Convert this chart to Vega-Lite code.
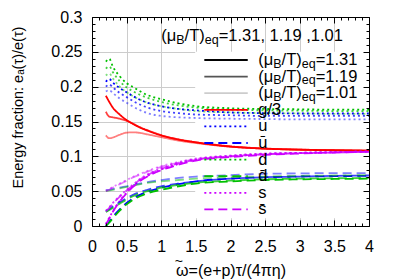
{
"$schema":"https://vega.github.io/schema/vega-lite/v6.json",
"width":277,"height":209,
"autosize":{"type":"none"},
"padding":{"left":92,"top":17,"right":30,"bottom":53},
"config":{"font":"Liberation Sans","view":{"stroke":null},"axis":{"labelFont":"Liberation Sans","titleFont":"Liberation Sans","labelColor":"#000","titleColor":"#000","domainColor":"#000","tickColor":"#000","titleFontWeight":"normal"}},
"datasets":{
"curves":[
{"m":"1.31","s":"g/3","x":0.2,"y":0.187},{"m":"1.31","s":"g/3","x":0.25,"y":0.178},{"m":"1.31","s":"g/3","x":0.3,"y":0.170},{"m":"1.31","s":"g/3","x":0.4,"y":0.160},{"m":"1.31","s":"g/3","x":0.5,"y":0.152},{"m":"1.31","s":"g/3","x":0.6,"y":0.146},{"m":"1.31","s":"g/3","x":0.7,"y":0.141},{"m":"1.31","s":"g/3","x":0.8,"y":0.137},{"m":"1.31","s":"g/3","x":1,"y":0.130},{"m":"1.31","s":"g/3","x":1.25,"y":0.124},{"m":"1.31","s":"g/3","x":1.5,"y":0.120},{"m":"1.31","s":"g/3","x":2,"y":0.114},{"m":"1.31","s":"g/3","x":2.5,"y":0.111},{"m":"1.31","s":"g/3","x":3,"y":0.1095},{"m":"1.31","s":"g/3","x":3.5,"y":0.1087},{"m":"1.31","s":"g/3","x":4,"y":0.108},
{"m":"1.19","s":"g/3","x":0.2,"y":0.164},{"m":"1.19","s":"g/3","x":0.25,"y":0.157},{"m":"1.19","s":"g/3","x":0.3,"y":0.156},{"m":"1.19","s":"g/3","x":0.4,"y":0.154},{"m":"1.19","s":"g/3","x":0.5,"y":0.151},{"m":"1.19","s":"g/3","x":0.6,"y":0.1465},{"m":"1.19","s":"g/3","x":0.7,"y":0.1415},{"m":"1.19","s":"g/3","x":0.8,"y":0.1375},{"m":"1.19","s":"g/3","x":1,"y":0.1305},{"m":"1.19","s":"g/3","x":1.25,"y":0.1245},{"m":"1.19","s":"g/3","x":1.5,"y":0.1203},{"m":"1.19","s":"g/3","x":2,"y":0.1143},{"m":"1.19","s":"g/3","x":2.5,"y":0.1112},{"m":"1.19","s":"g/3","x":3,"y":0.1097},{"m":"1.19","s":"g/3","x":3.5,"y":0.1089},{"m":"1.19","s":"g/3","x":4,"y":0.1082},
{"m":"1.01","s":"g/3","x":0.2,"y":0.130},{"m":"1.01","s":"g/3","x":0.25,"y":0.126},{"m":"1.01","s":"g/3","x":0.3,"y":0.127},{"m":"1.01","s":"g/3","x":0.4,"y":0.131},{"m":"1.01","s":"g/3","x":0.5,"y":0.134},{"m":"1.01","s":"g/3","x":0.6,"y":0.1345},{"m":"1.01","s":"g/3","x":0.7,"y":0.1335},{"m":"1.01","s":"g/3","x":0.8,"y":0.1315},{"m":"1.01","s":"g/3","x":1,"y":0.1275},{"m":"1.01","s":"g/3","x":1.25,"y":0.1225},{"m":"1.01","s":"g/3","x":1.5,"y":0.119},{"m":"1.01","s":"g/3","x":2,"y":0.1138},{"m":"1.01","s":"g/3","x":2.5,"y":0.111},{"m":"1.01","s":"g/3","x":3,"y":0.1096},{"m":"1.01","s":"g/3","x":3.5,"y":0.1088},{"m":"1.01","s":"g/3","x":4,"y":0.1082},
{"m":"1.31","s":"u","x":0.2,"y":0.207},{"m":"1.31","s":"u","x":0.25,"y":0.211},{"m":"1.31","s":"u","x":0.3,"y":0.206},{"m":"1.31","s":"u","x":0.4,"y":0.198},{"m":"1.31","s":"u","x":0.5,"y":0.192},{"m":"1.31","s":"u","x":0.6,"y":0.186},{"m":"1.31","s":"u","x":0.7,"y":0.181},{"m":"1.31","s":"u","x":0.8,"y":0.177},{"m":"1.31","s":"u","x":1,"y":0.172},{"m":"1.31","s":"u","x":1.25,"y":0.168},{"m":"1.31","s":"u","x":1.5,"y":0.166},{"m":"1.31","s":"u","x":2,"y":0.163},{"m":"1.31","s":"u","x":2.5,"y":0.162},{"m":"1.31","s":"u","x":3,"y":0.1615},{"m":"1.31","s":"u","x":3.5,"y":0.1615},{"m":"1.31","s":"u","x":4,"y":0.1615},
{"m":"1.19","s":"u","x":0.2,"y":0.200},{"m":"1.19","s":"u","x":0.25,"y":0.203},{"m":"1.19","s":"u","x":0.3,"y":0.199},{"m":"1.19","s":"u","x":0.4,"y":0.191},{"m":"1.19","s":"u","x":0.5,"y":0.185},{"m":"1.19","s":"u","x":0.6,"y":0.179},{"m":"1.19","s":"u","x":0.7,"y":0.174},{"m":"1.19","s":"u","x":0.8,"y":0.170},{"m":"1.19","s":"u","x":1,"y":0.165},{"m":"1.19","s":"u","x":1.25,"y":0.162},{"m":"1.19","s":"u","x":1.5,"y":0.160},{"m":"1.19","s":"u","x":2,"y":0.159},{"m":"1.19","s":"u","x":2.5,"y":0.158},{"m":"1.19","s":"u","x":3,"y":0.158},{"m":"1.19","s":"u","x":3.5,"y":0.158},{"m":"1.19","s":"u","x":4,"y":0.158},
{"m":"1.01","s":"u","x":0.2,"y":0.193},{"m":"1.01","s":"u","x":0.25,"y":0.195},{"m":"1.01","s":"u","x":0.3,"y":0.191},{"m":"1.01","s":"u","x":0.4,"y":0.183},{"m":"1.01","s":"u","x":0.5,"y":0.177},{"m":"1.01","s":"u","x":0.6,"y":0.171},{"m":"1.01","s":"u","x":0.7,"y":0.166},{"m":"1.01","s":"u","x":0.8,"y":0.162},{"m":"1.01","s":"u","x":1,"y":0.158},{"m":"1.01","s":"u","x":1.25,"y":0.156},{"m":"1.01","s":"u","x":1.5,"y":0.155},{"m":"1.01","s":"u","x":2,"y":0.154},{"m":"1.01","s":"u","x":2.5,"y":0.1535},{"m":"1.01","s":"u","x":3,"y":0.153},{"m":"1.01","s":"u","x":3.5,"y":0.153},{"m":"1.01","s":"u","x":4,"y":0.153},
{"m":"1.31","s":"d","x":0.2,"y":0.236},{"m":"1.31","s":"d","x":0.25,"y":0.240},{"m":"1.31","s":"d","x":0.3,"y":0.229},{"m":"1.31","s":"d","x":0.4,"y":0.215},{"m":"1.31","s":"d","x":0.5,"y":0.205},{"m":"1.31","s":"d","x":0.6,"y":0.199},{"m":"1.31","s":"d","x":0.7,"y":0.193},{"m":"1.31","s":"d","x":0.8,"y":0.188},{"m":"1.31","s":"d","x":1,"y":0.182},{"m":"1.31","s":"d","x":1.25,"y":0.176},{"m":"1.31","s":"d","x":1.5,"y":0.172},{"m":"1.31","s":"d","x":2,"y":0.169},{"m":"1.31","s":"d","x":2.5,"y":0.168},{"m":"1.31","s":"d","x":3,"y":0.1675},{"m":"1.31","s":"d","x":3.5,"y":0.167},{"m":"1.31","s":"d","x":4,"y":0.167},
{"m":"1.19","s":"d","x":0.2,"y":0.226},{"m":"1.19","s":"d","x":0.25,"y":0.229},{"m":"1.19","s":"d","x":0.3,"y":0.221},{"m":"1.19","s":"d","x":0.4,"y":0.208},{"m":"1.19","s":"d","x":0.5,"y":0.199},{"m":"1.19","s":"d","x":0.6,"y":0.193},{"m":"1.19","s":"d","x":0.7,"y":0.188},{"m":"1.19","s":"d","x":0.8,"y":0.184},{"m":"1.19","s":"d","x":1,"y":0.178},{"m":"1.19","s":"d","x":1.25,"y":0.173},{"m":"1.19","s":"d","x":1.5,"y":0.170},{"m":"1.19","s":"d","x":2,"y":0.167},{"m":"1.19","s":"d","x":2.5,"y":0.166},{"m":"1.19","s":"d","x":3,"y":0.1655},{"m":"1.19","s":"d","x":3.5,"y":0.165},{"m":"1.19","s":"d","x":4,"y":0.165},
{"m":"1.01","s":"d","x":0.2,"y":0.216},{"m":"1.01","s":"d","x":0.25,"y":0.219},{"m":"1.01","s":"d","x":0.3,"y":0.212},{"m":"1.01","s":"d","x":0.4,"y":0.200},{"m":"1.01","s":"d","x":0.5,"y":0.192},{"m":"1.01","s":"d","x":0.6,"y":0.186},{"m":"1.01","s":"d","x":0.7,"y":0.181},{"m":"1.01","s":"d","x":0.8,"y":0.177},{"m":"1.01","s":"d","x":1,"y":0.172},{"m":"1.01","s":"d","x":1.25,"y":0.168},{"m":"1.01","s":"d","x":1.5,"y":0.165},{"m":"1.01","s":"d","x":2,"y":0.163},{"m":"1.01","s":"d","x":2.5,"y":0.162},{"m":"1.01","s":"d","x":3,"y":0.1615},{"m":"1.01","s":"d","x":3.5,"y":0.161},{"m":"1.01","s":"d","x":4,"y":0.161},
{"m":"1.31","s":"s","x":0.2,"y":0.003},{"m":"1.31","s":"s","x":0.25,"y":0.012},{"m":"1.31","s":"s","x":0.3,"y":0.021},{"m":"1.31","s":"s","x":0.4,"y":0.036},{"m":"1.31","s":"s","x":0.5,"y":0.048},{"m":"1.31","s":"s","x":0.6,"y":0.058},{"m":"1.31","s":"s","x":0.7,"y":0.066},{"m":"1.31","s":"s","x":0.8,"y":0.072},{"m":"1.31","s":"s","x":1,"y":0.081},{"m":"1.31","s":"s","x":1.25,"y":0.089},{"m":"1.31","s":"s","x":1.5,"y":0.095},{"m":"1.31","s":"s","x":2,"y":0.100},{"m":"1.31","s":"s","x":2.5,"y":0.103},{"m":"1.31","s":"s","x":3,"y":0.105},{"m":"1.31","s":"s","x":3.5,"y":0.106},{"m":"1.31","s":"s","x":4,"y":0.107},
{"m":"1.19","s":"s","x":0.2,"y":0.022},{"m":"1.19","s":"s","x":0.25,"y":0.027},{"m":"1.19","s":"s","x":0.3,"y":0.033},{"m":"1.19","s":"s","x":0.4,"y":0.043},{"m":"1.19","s":"s","x":0.5,"y":0.052},{"m":"1.19","s":"s","x":0.6,"y":0.060},{"m":"1.19","s":"s","x":0.7,"y":0.068},{"m":"1.19","s":"s","x":0.8,"y":0.074},{"m":"1.19","s":"s","x":1,"y":0.083},{"m":"1.19","s":"s","x":1.25,"y":0.091},{"m":"1.19","s":"s","x":1.5,"y":0.096},{"m":"1.19","s":"s","x":2,"y":0.101},{"m":"1.19","s":"s","x":2.5,"y":0.104},{"m":"1.19","s":"s","x":3,"y":0.105},{"m":"1.19","s":"s","x":3.5,"y":0.106},{"m":"1.19","s":"s","x":4,"y":0.107},
{"m":"1.01","s":"s","x":0.2,"y":0.051},{"m":"1.01","s":"s","x":0.25,"y":0.053},{"m":"1.01","s":"s","x":0.3,"y":0.056},{"m":"1.01","s":"s","x":0.4,"y":0.061},{"m":"1.01","s":"s","x":0.5,"y":0.066},{"m":"1.01","s":"s","x":0.6,"y":0.071},{"m":"1.01","s":"s","x":0.7,"y":0.075},{"m":"1.01","s":"s","x":0.8,"y":0.079},{"m":"1.01","s":"s","x":1,"y":0.086},{"m":"1.01","s":"s","x":1.25,"y":0.092},{"m":"1.01","s":"s","x":1.5,"y":0.097},{"m":"1.01","s":"s","x":2,"y":0.101},{"m":"1.01","s":"s","x":2.5,"y":0.104},{"m":"1.01","s":"s","x":3,"y":0.105},{"m":"1.01","s":"s","x":3.5,"y":0.106},{"m":"1.01","s":"s","x":4,"y":0.107},
{"m":"1.31","s":"ū","x":0.2,"y":0.000},{"m":"1.31","s":"ū","x":0.25,"y":0.006},{"m":"1.31","s":"ū","x":0.3,"y":0.013},{"m":"1.31","s":"ū","x":0.4,"y":0.024},{"m":"1.31","s":"ū","x":0.5,"y":0.033},{"m":"1.31","s":"ū","x":0.6,"y":0.040},{"m":"1.31","s":"ū","x":0.7,"y":0.045},{"m":"1.31","s":"ū","x":0.8,"y":0.049},{"m":"1.31","s":"ū","x":1,"y":0.055},{"m":"1.31","s":"ū","x":1.25,"y":0.060},{"m":"1.31","s":"ū","x":1.5,"y":0.064},{"m":"1.31","s":"ū","x":2,"y":0.068},{"m":"1.31","s":"ū","x":2.5,"y":0.070},{"m":"1.31","s":"ū","x":3,"y":0.071},{"m":"1.31","s":"ū","x":3.5,"y":0.0715},{"m":"1.31","s":"ū","x":4,"y":0.072},
{"m":"1.19","s":"ū","x":0.2,"y":0.021},{"m":"1.19","s":"ū","x":0.25,"y":0.024},{"m":"1.19","s":"ū","x":0.3,"y":0.028},{"m":"1.19","s":"ū","x":0.4,"y":0.034},{"m":"1.19","s":"ū","x":0.5,"y":0.040},{"m":"1.19","s":"ū","x":0.6,"y":0.045},{"m":"1.19","s":"ū","x":0.7,"y":0.049},{"m":"1.19","s":"ū","x":0.8,"y":0.052},{"m":"1.19","s":"ū","x":1,"y":0.057},{"m":"1.19","s":"ū","x":1.25,"y":0.061},{"m":"1.19","s":"ū","x":1.5,"y":0.064},{"m":"1.19","s":"ū","x":2,"y":0.068},{"m":"1.19","s":"ū","x":2.5,"y":0.070},{"m":"1.19","s":"ū","x":3,"y":0.071},{"m":"1.19","s":"ū","x":3.5,"y":0.072},{"m":"1.19","s":"ū","x":4,"y":0.0725},
{"m":"1.01","s":"ū","x":0.2,"y":0.051},{"m":"1.01","s":"ū","x":0.25,"y":0.052},{"m":"1.01","s":"ū","x":0.3,"y":0.053},{"m":"1.01","s":"ū","x":0.4,"y":0.055},{"m":"1.01","s":"ū","x":0.5,"y":0.057},{"m":"1.01","s":"ū","x":0.6,"y":0.059},{"m":"1.01","s":"ū","x":0.7,"y":0.061},{"m":"1.01","s":"ū","x":0.8,"y":0.063},{"m":"1.01","s":"ū","x":1,"y":0.066},{"m":"1.01","s":"ū","x":1.25,"y":0.069},{"m":"1.01","s":"ū","x":1.5,"y":0.071},{"m":"1.01","s":"ū","x":2,"y":0.073},{"m":"1.01","s":"ū","x":2.5,"y":0.075},{"m":"1.01","s":"ū","x":3,"y":0.0755},{"m":"1.01","s":"ū","x":3.5,"y":0.076},{"m":"1.01","s":"ū","x":4,"y":0.076},
{"m":"1.31","s":"d̄","x":0.2,"y":0.000},{"m":"1.31","s":"d̄","x":0.25,"y":0.005},{"m":"1.31","s":"d̄","x":0.3,"y":0.011},{"m":"1.31","s":"d̄","x":0.4,"y":0.022},{"m":"1.31","s":"d̄","x":0.5,"y":0.031},{"m":"1.31","s":"d̄","x":0.6,"y":0.038},{"m":"1.31","s":"d̄","x":0.7,"y":0.043},{"m":"1.31","s":"d̄","x":0.8,"y":0.047},{"m":"1.31","s":"d̄","x":1,"y":0.052},{"m":"1.31","s":"d̄","x":1.25,"y":0.057},{"m":"1.31","s":"d̄","x":1.5,"y":0.061},{"m":"1.31","s":"d̄","x":2,"y":0.064},{"m":"1.31","s":"d̄","x":2.5,"y":0.066},{"m":"1.31","s":"d̄","x":3,"y":0.067},{"m":"1.31","s":"d̄","x":3.5,"y":0.0675},{"m":"1.31","s":"d̄","x":4,"y":0.068},
{"m":"1.19","s":"d̄","x":0.2,"y":0.020},{"m":"1.19","s":"d̄","x":0.25,"y":0.023},{"m":"1.19","s":"d̄","x":0.3,"y":0.026},{"m":"1.19","s":"d̄","x":0.4,"y":0.032},{"m":"1.19","s":"d̄","x":0.5,"y":0.038},{"m":"1.19","s":"d̄","x":0.6,"y":0.043},{"m":"1.19","s":"d̄","x":0.7,"y":0.047},{"m":"1.19","s":"d̄","x":0.8,"y":0.050},{"m":"1.19","s":"d̄","x":1,"y":0.055},{"m":"1.19","s":"d̄","x":1.25,"y":0.059},{"m":"1.19","s":"d̄","x":1.5,"y":0.062},{"m":"1.19","s":"d̄","x":2,"y":0.065},{"m":"1.19","s":"d̄","x":2.5,"y":0.067},{"m":"1.19","s":"d̄","x":3,"y":0.068},{"m":"1.19","s":"d̄","x":3.5,"y":0.0685},{"m":"1.19","s":"d̄","x":4,"y":0.069},
{"m":"1.01","s":"d̄","x":0.2,"y":0.050},{"m":"1.01","s":"d̄","x":0.25,"y":0.051},{"m":"1.01","s":"d̄","x":0.3,"y":0.052},{"m":"1.01","s":"d̄","x":0.4,"y":0.054},{"m":"1.01","s":"d̄","x":0.5,"y":0.056},{"m":"1.01","s":"d̄","x":0.6,"y":0.058},{"m":"1.01","s":"d̄","x":0.7,"y":0.060},{"m":"1.01","s":"d̄","x":0.8,"y":0.062},{"m":"1.01","s":"d̄","x":1,"y":0.064},{"m":"1.01","s":"d̄","x":1.25,"y":0.066},{"m":"1.01","s":"d̄","x":1.5,"y":0.068},{"m":"1.01","s":"d̄","x":2,"y":0.070},{"m":"1.01","s":"d̄","x":2.5,"y":0.071},{"m":"1.01","s":"d̄","x":3,"y":0.072},{"m":"1.01","s":"d̄","x":3.5,"y":0.0725},{"m":"1.01","s":"d̄","x":4,"y":0.073},
{"m":"1.31","s":"s̄","x":0.2,"y":0.002},{"m":"1.31","s":"s̄","x":0.25,"y":0.011},{"m":"1.31","s":"s̄","x":0.3,"y":0.020},{"m":"1.31","s":"s̄","x":0.4,"y":0.035},{"m":"1.31","s":"s̄","x":0.5,"y":0.047},{"m":"1.31","s":"s̄","x":0.6,"y":0.057},{"m":"1.31","s":"s̄","x":0.7,"y":0.065},{"m":"1.31","s":"s̄","x":0.8,"y":0.071},{"m":"1.31","s":"s̄","x":1,"y":0.080},{"m":"1.31","s":"s̄","x":1.25,"y":0.088},{"m":"1.31","s":"s̄","x":1.5,"y":0.094},{"m":"1.31","s":"s̄","x":2,"y":0.099},{"m":"1.31","s":"s̄","x":2.5,"y":0.102},{"m":"1.31","s":"s̄","x":3,"y":0.104},{"m":"1.31","s":"s̄","x":3.5,"y":0.1055},{"m":"1.31","s":"s̄","x":4,"y":0.1065},
{"m":"1.19","s":"s̄","x":0.2,"y":0.021},{"m":"1.19","s":"s̄","x":0.25,"y":0.026},{"m":"1.19","s":"s̄","x":0.3,"y":0.032},{"m":"1.19","s":"s̄","x":0.4,"y":0.042},{"m":"1.19","s":"s̄","x":0.5,"y":0.051},{"m":"1.19","s":"s̄","x":0.6,"y":0.059},{"m":"1.19","s":"s̄","x":0.7,"y":0.067},{"m":"1.19","s":"s̄","x":0.8,"y":0.073},{"m":"1.19","s":"s̄","x":1,"y":0.082},{"m":"1.19","s":"s̄","x":1.25,"y":0.090},{"m":"1.19","s":"s̄","x":1.5,"y":0.095},{"m":"1.19","s":"s̄","x":2,"y":0.100},{"m":"1.19","s":"s̄","x":2.5,"y":0.103},{"m":"1.19","s":"s̄","x":3,"y":0.1045},{"m":"1.19","s":"s̄","x":3.5,"y":0.1055},{"m":"1.19","s":"s̄","x":4,"y":0.1065},
{"m":"1.01","s":"s̄","x":0.2,"y":0.050},{"m":"1.01","s":"s̄","x":0.25,"y":0.052},{"m":"1.01","s":"s̄","x":0.3,"y":0.055},{"m":"1.01","s":"s̄","x":0.4,"y":0.060},{"m":"1.01","s":"s̄","x":0.5,"y":0.065},{"m":"1.01","s":"s̄","x":0.6,"y":0.070},{"m":"1.01","s":"s̄","x":0.7,"y":0.074},{"m":"1.01","s":"s̄","x":0.8,"y":0.078},{"m":"1.01","s":"s̄","x":1,"y":0.085},{"m":"1.01","s":"s̄","x":1.25,"y":0.091},{"m":"1.01","s":"s̄","x":1.5,"y":0.096},{"m":"1.01","s":"s̄","x":2,"y":0.100},{"m":"1.01","s":"s̄","x":2.5,"y":0.103},{"m":"1.01","s":"s̄","x":3,"y":0.1045},{"m":"1.01","s":"s̄","x":3.5,"y":0.1055},{"m":"1.01","s":"s̄","x":4,"y":0.1065}
],
"key":[
{"k":"m1.31","m":"1.31"},{"k":"m1.19","m":"1.19"},{"k":"m1.01","m":"1.01"},
{"k":"g/3","s":"g/3"},{"k":"u","s":"u"},{"k":"ū","s":"ū"},{"k":"d","s":"d"},{"k":"d̄","s":"d̄"},{"k":"s","s":"s"},{"k":"s̄","s":"s̄"}
]
},
"resolve":{"scale":{"y":"independent"},"axis":{"x":"independent","y":"independent"}},
"layer":[
{"data":{"values":[{}]},
 "mark":{"type":"rect","fill":"white","stroke":null},
 "encoding":{
  "x":{"datum":1.49,"type":"quantitative","scale":{"domain":[0,4],"nice":false,"zero":false},
       "axis":{"orient":"bottom","grid":true,"gridColor":"#cccccc","gridWidth":1,"ticks":false,"labels":false,"domain":false,"title":null,"values":[0.5,1,1.5,2,2.5,3,3.5],"zindex":0}},
  "x2":{"datum":4},
  "y":{"datum":0.011,"type":"quantitative","scale":{"domain":[0,0.3],"nice":false,"zero":false},
       "axis":{"orient":"left","grid":true,"gridColor":"#cccccc","gridWidth":1,"ticks":false,"labels":false,"domain":false,"title":null,"values":[0.05,0.1,0.15,0.2,0.25],"zindex":0}},
  "y2":{"datum":0.25}
 }},
{"data":{"name":"curves"},
 "transform":[{"filter":"datum.s=='g/3'||datum.s=='u'||datum.s=='d'||datum.s=='s'"}],
 "mark":{"type":"line","strokeWidth":1.8,"interpolate":"monotone"},
 "encoding":{
  "x":{"field":"x","type":"quantitative","scale":{"domain":[0,4],"nice":false,"zero":false},
       "axis":{"orient":"bottom","grid":false,"domain":true,"domainColor":"#000","values":[0,0.1,0.2,0.3,0.4,0.5,0.6,0.7,0.8,0.9,1,1.1,1.2,1.3,1.4,1.5,1.6,1.7,1.8,1.9,2,2.1,2.2,2.3,2.4,2.5,2.6,2.7,2.8,2.9,3,3.1,3.2,3.3,3.4,3.5,3.6,3.7,3.8,3.9,4],
         "format":"~g","labelExpr":"abs(round(datum.value*2)-datum.value*2)<1e-6 ? datum.label : ''",
         "tickSize":{"condition":{"test":"abs(round(datum.value*2)-datum.value*2)<1e-6","value":-6},"value":-3},
         "labelPadding":18,"labelFontSize":16,"labelFlush":false,"labelOverlap":false,
         "title":"ω=(e+p)τ/(4πη)","titleFontSize":16,"titleY":44,"titleBaseline":"middle","zindex":1}},
  "y":{"field":"y","type":"quantitative","scale":{"domain":[0,0.3],"nice":false,"zero":false},
       "axis":{"orient":"left","grid":false,"domain":true,"values":[0,0.01,0.02,0.03,0.04,0.05,0.06,0.07,0.08,0.09,0.1,0.11,0.12,0.13,0.14,0.15,0.16,0.17,0.18,0.19,0.2,0.21,0.22,0.23,0.24,0.25,0.26,0.27,0.28,0.29,0.3],
         "format":"~g","labelExpr":"abs(round(datum.value*20)-datum.value*20)<1e-6 ? datum.label : ''",
         "tickSize":{"condition":{"test":"abs(round(datum.value*20)-datum.value*20)<1e-6","value":-6},"value":-3},
         "labelPadding":16,"labelFontSize":16,"labelFlush":false,"labelOverlap":false,
         "title":"Energy fraction: eₐ(τ)/e(τ)","titleFontSize":14.5,"titleX":-74,"titleY":90,"titleAngle":-90,"titleAlign":"center","titleBaseline":"middle","zindex":1}},
  "color":{"field":"s","type":"nominal","scale":{"domain":["g/3","u","ū","d","d̄","s","s̄"],"range":["#ff0000","#0000ff","#0000ff","#00c000","#00c000","#cc00ff","#cc00ff"]},"legend":null},
  "strokeDash":{"field":"s","type":"nominal","scale":{"domain":["g/3","u","ū","d","d̄","s","s̄"],"range":[[1,0],[2,3],[9,5],[2,3],[9,5],[2,3],[9,5]]},"legend":null},
  "opacity":{"field":"m","type":"nominal","scale":{"domain":["1.31","1.19","1.01"],"range":[1,0.5,0.25]},"legend":null}
 }},
{"data":{"name":"curves"},
 "transform":[{"filter":"datum.s=='ū'||datum.s=='d̄'||datum.s=='s̄'"}],
 "mark":{"type":"line","strokeWidth":1.8,"interpolate":"monotone"},
 "encoding":{
  "x":{"field":"x","type":"quantitative","scale":{"domain":[0,4],"nice":false,"zero":false},
       "axis":{"orient":"top","grid":false,"domain":true,"labels":false,"title":null,"values":[0,0.1,0.2,0.3,0.4,0.5,0.6,0.7,0.8,0.9,1,1.1,1.2,1.3,1.4,1.5,1.6,1.7,1.8,1.9,2,2.1,2.2,2.3,2.4,2.5,2.6,2.7,2.8,2.9,3,3.1,3.2,3.3,3.4,3.5,3.6,3.7,3.8,3.9,4],
         "tickSize":{"condition":{"test":"abs(round(datum.value*2)-datum.value*2)<1e-6","value":-6},"value":-3},"zindex":1}},
  "y":{"field":"y","type":"quantitative","scale":{"domain":[0,0.3],"nice":false,"zero":false},
       "axis":{"orient":"right","grid":false,"domain":true,"labels":false,"title":null,"values":[0,0.01,0.02,0.03,0.04,0.05,0.06,0.07,0.08,0.09,0.1,0.11,0.12,0.13,0.14,0.15,0.16,0.17,0.18,0.19,0.2,0.21,0.22,0.23,0.24,0.25,0.26,0.27,0.28,0.29,0.3],
         "tickSize":{"condition":{"test":"abs(round(datum.value*20)-datum.value*20)<1e-6","value":-6},"value":-3},"zindex":1}},
  "color":{"field":"s","type":"nominal","legend":null},
  "strokeDash":{"field":"s","type":"nominal","legend":null},
  "opacity":{"field":"m","type":"nominal","legend":null}
 }},
{"data":{"values":[{}]},
 "mark":{"type":"text","align":"center","baseline":"middle","fontSize":14,"font":"Liberation Sans","color":"#000","dy":-7},
 "encoding":{"x":{"datum":1.255,"type":"quantitative","axis":null},"y":{"datum":-0.062,"type":"quantitative","scale":{"domain":[0,0.3],"nice":false,"zero":false},"axis":null},"text":{"value":"~"}}},
{"data":{"name":"key"},
 "transform":[{"filter":"isValid(datum.m)"}],
 "mark":{"type":"rule","strokeWidth":1.8},
 "encoding":{
  "x":{"datum":1.622,"type":"quantitative","axis":null},
  "x2":{"datum":2.249},
  "y":{"field":"k","type":"nominal","sort":null,"scale":{"type":"point","domain":["m1.31","m1.19","m1.01","g/3","u","ū","d","d̄","s","s̄"],"range":[43,192.4],"padding":0},"axis":null},
  "stroke":{"field":"m","type":"nominal","scale":{"domain":["1.31","1.19","1.01"],"range":["#000000","#555555","#cccccc"]},"legend":null}
 }},
{"data":{"name":"key"},
 "transform":[{"filter":"isValid(datum.s)"}],
 "mark":{"type":"rule","strokeWidth":1.8},
 "encoding":{
  "x":{"datum":1.622,"type":"quantitative","axis":null},
  "x2":{"datum":2.249},
  "y":{"field":"k","type":"nominal","sort":null,"scale":{"type":"point","domain":["m1.31","m1.19","m1.01","g/3","u","ū","d","d̄","s","s̄"],"range":[43,192.4],"padding":0},"axis":null},
  "color":{"field":"s","type":"nominal","legend":null},
  "strokeDash":{"field":"s","type":"nominal","legend":null}
 }},
{"data":{"name":"key"},
 "transform":[{"filter":"isValid(datum.s)"}],
 "mark":{"type":"text","align":"left","baseline":"middle","fontSize":16.5,"font":"Liberation Sans","color":"#000"},
 "encoding":{
  "x":{"datum":2.401,"type":"quantitative","axis":null},
  "y":{"field":"k","type":"nominal","sort":null,"scale":{"type":"point","domain":["m1.31","m1.19","m1.01","g/3","u","ū","d","d̄","s","s̄"],"range":[43,192.4],"padding":0},"axis":null},
  "text":{"field":"s"}
 }},
{"data":{"name":"key"},
 "transform":[{"filter":"isValid(datum.m)"}],
 "mark":{"type":"text","align":"left","baseline":"middle","fontSize":16.5,"font":"Liberation Sans","color":"#000"},
 "encoding":{
  "x":{"datum":2.401,"type":"quantitative","axis":null},
  "y":{"field":"k","type":"nominal","sort":null,"scale":{"type":"point","domain":["m1.31","m1.19","m1.01","g/3","u","ū","d","d̄","s","s̄"],"range":[43,192.4],"padding":0},"axis":null},
  "text":{"value":"(μ"}
 }},
{"data":{"name":"key"},
 "transform":[{"filter":"isValid(datum.m)"}],
 "mark":{"type":"text","align":"left","baseline":"middle","fontSize":12.5,"font":"Liberation Sans","color":"#000","dx":15,"dy":3.5},
 "encoding":{
  "x":{"datum":2.401,"type":"quantitative","axis":null},
  "y":{"field":"k","type":"nominal","sort":null,"scale":{"type":"point","domain":["m1.31","m1.19","m1.01","g/3","u","ū","d","d̄","s","s̄"],"range":[43,192.4],"padding":0},"axis":null},
  "text":{"value":"B"}
 }},
{"data":{"name":"key"},
 "transform":[{"filter":"isValid(datum.m)"}],
 "mark":{"type":"text","align":"left","baseline":"middle","fontSize":16.5,"font":"Liberation Sans","color":"#000","dx":23.3},
 "encoding":{
  "x":{"datum":2.401,"type":"quantitative","axis":null},
  "y":{"field":"k","type":"nominal","sort":null,"scale":{"type":"point","domain":["m1.31","m1.19","m1.01","g/3","u","ū","d","d̄","s","s̄"],"range":[43,192.4],"padding":0},"axis":null},
  "text":{"value":"/T)"}
 }},
{"data":{"name":"key"},
 "transform":[{"filter":"isValid(datum.m)"}],
 "mark":{"type":"text","align":"left","baseline":"middle","fontSize":12.5,"font":"Liberation Sans","color":"#000","dx":43.5,"dy":3.5},
 "encoding":{
  "x":{"datum":2.401,"type":"quantitative","axis":null},
  "y":{"field":"k","type":"nominal","sort":null,"scale":{"type":"point","domain":["m1.31","m1.19","m1.01","g/3","u","ū","d","d̄","s","s̄"],"range":[43,192.4],"padding":0},"axis":null},
  "text":{"value":"eq"}
 }},
{"data":{"name":"key"},
 "transform":[{"filter":"isValid(datum.m)"}],
 "mark":{"type":"text","align":"left","baseline":"middle","fontSize":16.5,"font":"Liberation Sans","color":"#000","dx":57.4},
 "encoding":{
  "x":{"datum":2.401,"type":"quantitative","axis":null},
  "y":{"field":"k","type":"nominal","sort":null,"scale":{"type":"point","domain":["m1.31","m1.19","m1.01","g/3","u","ū","d","d̄","s","s̄"],"range":[43,192.4],"padding":0},"axis":null},
  "text":{"value":"="}
 }},
{"data":{"name":"key"},
 "transform":[{"filter":"isValid(datum.m)"}],
 "mark":{"type":"text","align":"left","baseline":"middle","fontSize":16.5,"font":"Liberation Sans","color":"#000","dx":67.0},
 "encoding":{
  "x":{"datum":2.401,"type":"quantitative","axis":null},
  "y":{"field":"k","type":"nominal","sort":null,"scale":{"type":"point","domain":["m1.31","m1.19","m1.01","g/3","u","ū","d","d̄","s","s̄"],"range":[43,192.4],"padding":0},"axis":null},
  "text":{"field":"m"}
 }},
{"data":{"values":[{}]},
 "mark":{"type":"text","align":"left","baseline":"middle","fontSize":16.5,"font":"Liberation Sans","color":"#000"},
 "encoding":{"x":{"datum":1.0,"type":"quantitative","axis":null},"y":{"datum":0.2727,"type":"quantitative","scale":{"domain":[0,0.3],"nice":false,"zero":false},"axis":null},"text":{"value":"(μ"}}},
{"data":{"values":[{}]},
 "mark":{"type":"text","align":"left","baseline":"middle","fontSize":12.5,"font":"Liberation Sans","color":"#000","dx":15,"dy":3.5},
 "encoding":{"x":{"datum":1.0,"type":"quantitative","axis":null},"y":{"datum":0.2727,"type":"quantitative","scale":{"domain":[0,0.3],"nice":false,"zero":false},"axis":null},"text":{"value":"B"}}},
{"data":{"values":[{}]},
 "mark":{"type":"text","align":"left","baseline":"middle","fontSize":16.5,"font":"Liberation Sans","color":"#000","dx":23.3},
 "encoding":{"x":{"datum":1.0,"type":"quantitative","axis":null},"y":{"datum":0.2727,"type":"quantitative","scale":{"domain":[0,0.3],"nice":false,"zero":false},"axis":null},"text":{"value":"/T)"}}},
{"data":{"values":[{}]},
 "mark":{"type":"text","align":"left","baseline":"middle","fontSize":12.5,"font":"Liberation Sans","color":"#000","dx":43.5,"dy":3.5},
 "encoding":{"x":{"datum":1.0,"type":"quantitative","axis":null},"y":{"datum":0.2727,"type":"quantitative","scale":{"domain":[0,0.3],"nice":false,"zero":false},"axis":null},"text":{"value":"eq"}}},
{"data":{"values":[{}]},
 "mark":{"type":"text","align":"left","baseline":"middle","fontSize":16.5,"font":"Liberation Sans","color":"#000","dx":57.4},
 "encoding":{"x":{"datum":1.0,"type":"quantitative","axis":null},"y":{"datum":0.2727,"type":"quantitative","scale":{"domain":[0,0.3],"nice":false,"zero":false},"axis":null},"text":{"value":"=1.31, 1.19 ,1.01"}}}
]
}
